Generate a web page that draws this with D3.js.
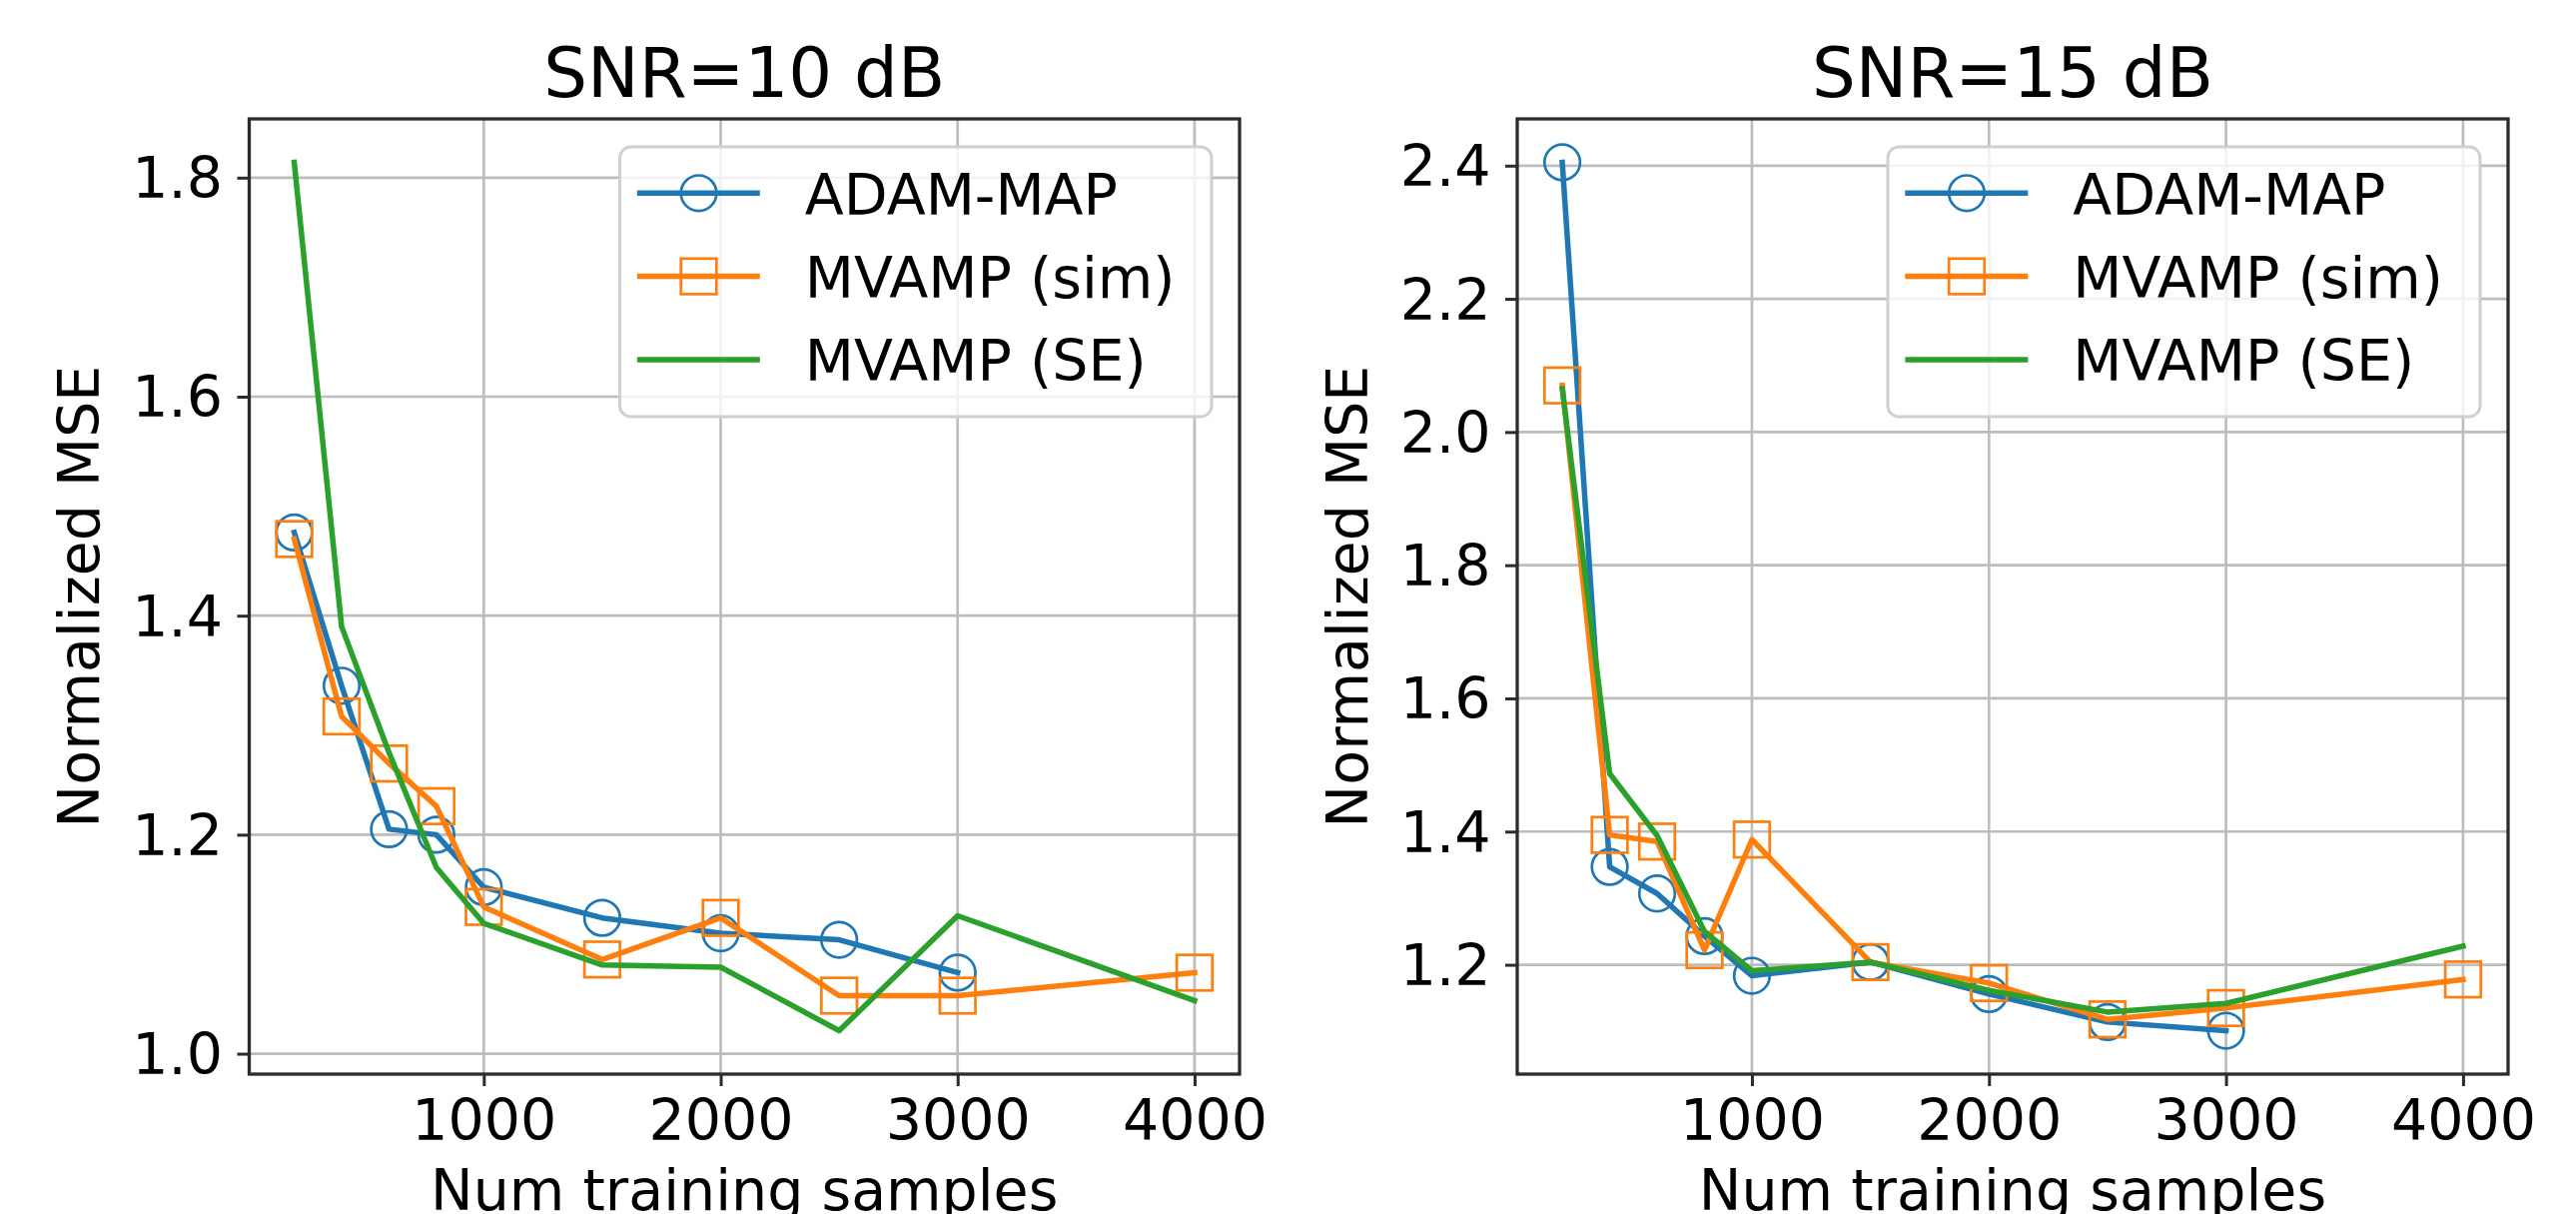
<!DOCTYPE html>
<html>
<head>
<meta charset="utf-8">
<script src="https://cdn.jsdelivr.net/npm/d3@7"></script>
<style>
  body { margin: 0; background: #fff; }
  text { font-family: "DejaVu Sans", sans-serif; fill: #000; }
</style>
</head>
<body>
<div id="chart"></div>
<script>
const samples = [200, 400, 600, 800, 1000, 1500, 2000, 2500, 3000, 4000]

// SNR = 10 dB (ADAM-MAP stops at 3000)
const adamMap10  = [1.476, 1.336, 1.205, 1.200, 1.152, 1.124, 1.110, 1.104, 1.074]
const mvampSim10 = [1.470, 1.308, 1.265, 1.226, 1.134, 1.086, 1.124, 1.053, 1.053, 1.074]
const mvampSE10  = [1.814, 1.390, 1.275, 1.170, 1.119, 1.081, 1.079, 1.021, 1.126, 1.0485]

// SNR = 15 dB
const adamMap15  = [2.405, 1.347, 1.307, 1.243, 1.1835, 1.204, 1.156, 1.114, 1.101]
const mvampSim15 = [2.070, 1.395, 1.385, 1.222, 1.388, 1.204, 1.1725, 1.118, 1.135, 1.178]
const mvampSE15  = [2.065, 1.487, 1.394, 1.250, 1.191, 1.204, 1.1615, 1.129, 1.142, 1.228]

const xTicks = [1000, 2000, 3000, 4000]
const yTicks10 = [1.0, 1.2, 1.4, 1.6, 1.8]
const yTicks15 = [1.2, 1.4, 1.6, 1.8, 2.0, 2.2, 2.4]
const titles = ["SNR=10 dB", "SNR=15 dB"]
const seriesNames = ["ADAM-MAP", "MVAMP (sim)", "MVAMP (SE)"]
const xLabel = "Num training samples"
const yLabel = "Normalized MSE"

;((exports) => {
    let W = 2579, H = 1215,
        top = 119, bottom = 1075,
        fs = 57,
        colors = ["#1f77b4", "#ff7f0e", "#2ca02c"],
        markers = ["circle", "square", null],
        svg = d3.select("div#chart").append("svg")
                  .attr("width", W)
                  .attr("height", H)

    let pad = (ext) => {
        let d = (ext[1] - ext[0]) * 0.05
        return [ext[0] - d, ext[1] + d]
    }

    let panels = [
        { title: titles[0], series: [adamMap10, mvampSim10, mvampSE10], yTicks: yTicks10, left: 249.5, right: 1241 },
        { title: titles[1], series: [adamMap15, mvampSim15, mvampSE15], yTicks: yTicks15, left: 1519, right: 2511 }
    ]

    let drawPanel = (p) => {
        let x = d3.scaleLinear().domain(pad(d3.extent(samples))).range([p.left, p.right]),
            y = d3.scaleLinear().domain(pad(d3.extent(p.series.flat()))).range([bottom, top]),
            cx = (p.left + p.right) / 2,
            g = svg.append("g")

        // grid
        g.selectAll("line.gx").data(xTicks).join("line")
            .attr("x1", d => x(d)).attr("x2", d => x(d))
            .attr("y1", top).attr("y2", bottom)
            .attr("stroke", "#bdbdbd").attr("stroke-width", 2.7)
        g.selectAll("line.gy").data(p.yTicks).join("line")
            .attr("x1", p.left).attr("x2", p.right)
            .attr("y1", d => y(d)).attr("y2", d => y(d))
            .attr("stroke", "#bdbdbd").attr("stroke-width", 2.7)

        // series
        p.series.forEach((vals, i) => {
            let pts = vals.map((v, j) => [x(samples[j]), y(v)])
            g.append("path")
                .attr("d", d3.line()(pts))
                .attr("fill", "none")
                .attr("stroke", colors[i])
                .attr("stroke-width", 5.5)
                .attr("stroke-linejoin", "round")
                .attr("stroke-linecap", "square")
            if (markers[i] == "circle") {
                g.selectAll(null).data(pts).join("circle")
                    .attr("cx", d => d[0]).attr("cy", d => d[1]).attr("r", 17.8)
                    .attr("fill", "none").attr("stroke", colors[i]).attr("stroke-width", 2.7)
            } else if (markers[i] == "square") {
                g.selectAll(null).data(pts).join("rect")
                    .attr("x", d => d[0] - 17.8).attr("y", d => d[1] - 17.8)
                    .attr("width", 35.6).attr("height", 35.6)
                    .attr("fill", "none").attr("stroke", colors[i]).attr("stroke-width", 2.7)
            }
        })

        // axes
        let ax = g.append("g").attr("transform", `translate(0,${bottom})`)
            .call(d3.axisBottom(x).tickValues(xTicks).tickSize(12).tickPadding(13.5).tickFormat(d3.format("d")))
        let ay = g.append("g").attr("transform", `translate(${p.left},0)`)
            .call(d3.axisLeft(y).tickValues(p.yTicks).tickSize(12).tickPadding(14.5).tickFormat(d3.format(".1f")))
        ;[ax, ay].forEach(a => {
            a.select(".domain").remove()
            a.selectAll(".tick line").attr("stroke", "#2b2b2b").attr("stroke-width", 3)
            a.selectAll(".tick text").attr("font-size", fs).attr("font-family", "DejaVu Sans").attr("fill", "#000")
        })
        ay.selectAll(".tick text").attr("dy", "0.35em")

        // frame
        g.append("rect")
            .attr("x", p.left).attr("y", top)
            .attr("width", p.right - p.left).attr("height", bottom - top)
            .attr("fill", "none").attr("stroke", "#2b2b2b").attr("stroke-width", 3.3)

        // labels
        g.append("text").attr("x", cx).attr("y", 96.7)
            .attr("text-anchor", "middle").attr("font-size", 69).text(p.title)
        g.append("text").attr("x", cx).attr("y", 1211)
            .attr("text-anchor", "middle").attr("font-size", fs).text(xLabel)
        g.append("text").attr("transform", `translate(${p.left - 150.5},${(top + bottom) / 2}) rotate(-90)`)
            .attr("text-anchor", "middle").attr("font-size", fs).text(yLabel)

        // legend
        let lg = g.append("g").attr("transform", `translate(${p.left + 371},147)`)
        lg.append("rect")
            .attr("width", p.right - p.left - 371 - 28).attr("height", 270)
            .attr("rx", 11).attr("ry", 11)
            .attr("fill", "#fff").attr("fill-opacity", 0.8)
            .attr("stroke", "#d0d0d0").attr("stroke-width", 3)
        seriesNames.forEach((name, i) => {
            let ry = 46.3 + i * 83.3
            lg.append("line")
                .attr("x1", 17.3).attr("x2", 140.3).attr("y1", ry).attr("y2", ry)
                .attr("stroke", colors[i]).attr("stroke-width", 5.5)
            if (markers[i] == "circle") {
                lg.append("circle").attr("cx", 79).attr("cy", ry).attr("r", 17.8)
                    .attr("fill", "none").attr("stroke", colors[i]).attr("stroke-width", 2.7)
            } else if (markers[i] == "square") {
                lg.append("rect").attr("x", 79 - 17.8).attr("y", ry - 17.8)
                    .attr("width", 35.6).attr("height", 35.6)
                    .attr("fill", "none").attr("stroke", colors[i]).attr("stroke-width", 2.7)
            }
            lg.append("text").attr("x", 185.3).attr("y", ry + 21.5)
                .attr("font-size", fs).text(name)
        })
    }

    panels.forEach(drawPanel)
})(window)
</script>
</body>
</html>
